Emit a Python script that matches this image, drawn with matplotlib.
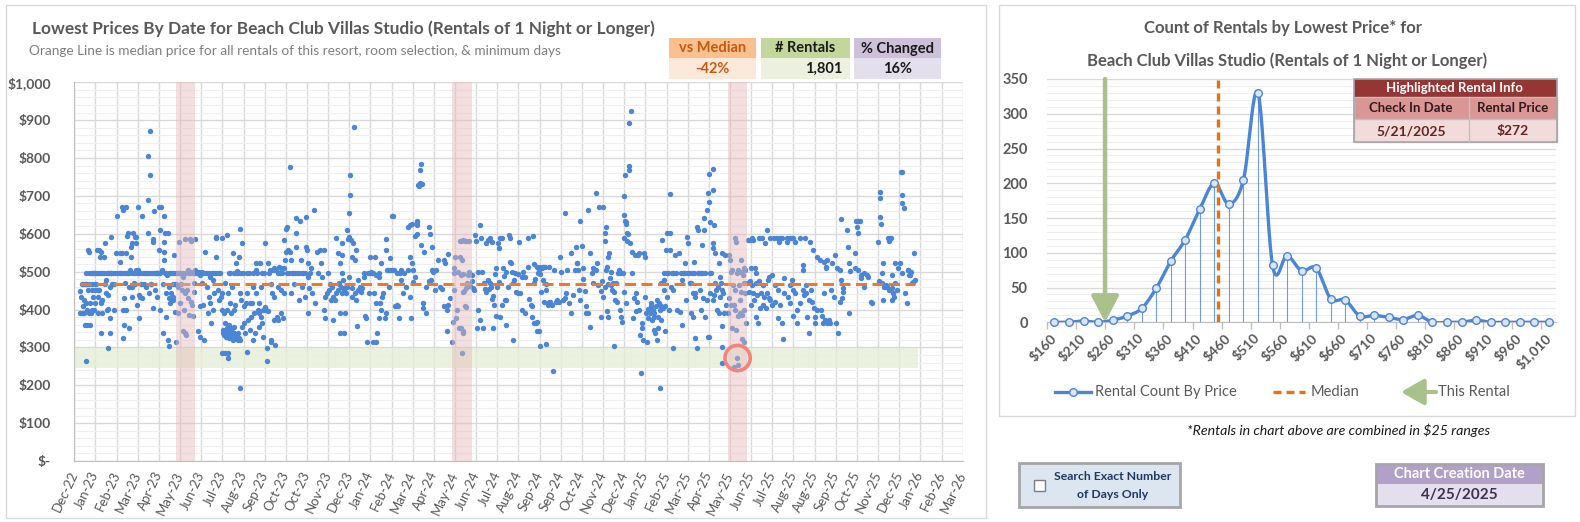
import datetime as dt
import numpy as np
import matplotlib
matplotlib.use("Agg")
import matplotlib.pyplot as plt
import matplotlib.dates as mdates
from matplotlib.patches import Rectangle
from matplotlib.ticker import MultipleLocator, FixedLocator

plt.rcParams['font.family'] = ['Lato', 'DejaVu Sans']

# ---------------- DATA ----------------
# Left chart: each rental "day:price", day = days since 2023-01-01
rentals_2023_h1 = """
0:450 1:390 2:434 3:467 3:390 4:390 5:467 5:408 6:390 6:425 7:467 7:359 8:496 8:416 9:265 9:467 10:399 10:359 11:557 11:452 12:390 12:496 13:553 13:467 14:359 14:416 15:496 15:390 16:467 16:496 17:452 17:399 18:434 18:496 19:496 19:399 20:416 20:452 21:496 21:467
22:467 23:557 23:496 24:390 24:434 25:452 25:496 26:557 26:452 27:540 27:496 28:416 28:421 28:337 29:553 29:496 30:390 30:425 31:496 32:540 32:496 33:467 34:575 35:478 35:443 36:399 36:496 37:298 37:438 38:401 38:496 39:496 40:460 40:377 40:337 41:496 42:592 42:496 43:467 44:496 45:399 46:467 47:496 48:548
50:648 51:496 53:548 53:496 54:526 55:496 56:672 56:548 57:324 57:496 58:663 58:399 59:359 59:430 60:469 60:496 61:548 62:672 62:399 63:595 63:496 64:601 64:496 65:496 66:350 66:460 67:504 68:540 68:566 69:575 69:460 70:496 70:434 71:601 72:469 72:496 73:592 74:496 74:467 75:575 75:504 75:592 76:412 76:496 77:504 77:672 78:377 78:438
80:496 80:434 81:467 82:430 83:648 84:496 85:467 86:496 87:496 88:460 89:496 90:805 90:688 90:603 91:496 92:443 93:872 93:755 93:496 94:467 95:467 96:496 97:585 97:577 97:403 98:496 99:661 100:496 100:452 101:496 102:496 102:434 103:496 104:496 105:672 105:557 106:610 106:496
107:399 108:672 109:504 110:467 111:337 112:648 112:579 112:553 112:531 113:601 113:496 114:381 115:496 115:443 116:491 117:601 117:320 118:304 118:496 119:460 119:430 120:496 120:416 121:443 122:496 123:434 124:425 124:467 125:544 125:496 126:394 126:467 127:467 128:313 128:496 129:496 130:460 130:390 131:496 132:577 133:416 133:496 134:467
135:452 136:496 137:487 137:342 138:399 139:587 139:496 140:337 140:443 141:333 142:452 143:504 144:496 144:430 145:386 146:587 146:496 147:421 148:582 148:500 149:412 150:496 150:382 151:469 152:496 152:447 153:585 153:504 154:496
155:496 156:496 157:342 158:500 159:328 159:408 160:491 161:496 162:500 162:469 163:412 164:496 165:320 166:552 167:496 168:496 169:460 170:390 171:496 171:434 172:487 173:416 174:364 175:496 176:478 176:399 177:496 178:443 179:496 180:590
"""
rentals_2023_h2 = """
181:592 181:540 182:496 183:452 184:425 185:496 186:496 187:434 188:284 188:399 189:590 189:443 190:346 190:337 191:390 191:333 192:469 192:364 193:284 193:342 194:346 194:328 195:597 195:399 195:350 196:271 196:337 197:284 197:443 197:337 198:496 198:324 198:359 199:496 199:416 199:337 200:342 200:390 200:333 201:333 201:346 202:350 202:460 203:548 203:320 203:337 204:496 204:399 205:337 205:355 206:328 206:412 207:524 207:496 207:328 208:501 208:328 209:496 209:333 210:337 210:320 211:540 211:324 212:496 212:443 213:612 213:192 213:320 214:425 215:575 215:355
216:496 217:408 218:364 219:337 220:416 221:289 221:496 222:443 223:372 224:496 225:416 226:346 227:381 228:416 229:496 230:320 230:460 231:390 232:337 233:504 233:443 234:522 235:496 236:399 237:355 238:416 238:390 239:522 240:381 240:460 241:364 242:496 243:399 243:328 244:496 245:575 245:406 247:399
248:265 248:298 249:395 250:522 251:496 252:504 253:320 253:467 254:315 255:443 256:504 257:372 258:509 258:434 259:306 260:504 261:381 262:496 262:460 263:372 264:512 265:496 266:452 266:390 267:509 268:496 269:377 270:509 270:443 271:584 272:531 273:612 273:553 275:496 275:619
276:557 277:496 278:553 279:777 280:531 280:443 281:496 283:496 284:467 285:496 286:641 287:601 287:566 288:496 290:496 290:425 292:635 293:531 294:496 295:460 296:496 298:496 298:434 300:645 300:566 301:557 302:522 302:487 303:390 304:456 305:496
306:509 308:443 310:663 312:416 314:553 315:496 318:557 319:522 321:487 323:557 323:399 325:434 325:377 327:443 329:496 330:452 332:467 333:425 334:460 335:434
336:372 338:425 340:588 340:443 342:548 342:452 343:469 344:467 345:522 345:390 345:339 346:460 347:443 348:575 348:544 348:496 349:478 350:452 350:339 351:390 352:460 353:443 354:610 354:460 355:585 356:592 357:654 357:487 358:702 358:755 359:583 360:456 360:434 361:540 362:575 363:883 364:531 365:443
"""
rentals_2024_h1 = """
366:425 366:557 367:357 368:478 369:452 371:460 373:447 374:456 376:496 377:487 378:383 379:377 380:315 382:496 383:443 385:496 385:540 386:500 387:496 388:315 389:496 390:443 391:540 392:315 393:491 393:416 394:337 396:487 396:377 397:496 398:416 399:522 399:399
400:434 402:443 404:377 405:585 405:390 406:557 407:504 409:504 410:460 411:535 411:504 413:648 414:504 415:648 416:504 418:408 420:412 420:496 422:408 423:377 424:496 425:504 426:478 428:443 430:496 432:460
435:619 435:504 437:540 437:434 438:623 439:377 440:626 440:522 441:504 442:473 444:595 444:487 446:623 446:632 446:635 447:600 448:730 449:727 450:768 451:733 452:784 452:570 453:731 454:416 455:403 456:552 458:392
459:460 462:619 462:474 464:600 465:478 466:566 467:504 468:500 470:452 472:504 475:531 477:460 480:455 482:531 482:408 484:522 486:342 486:399 488:547 488:413 490:430
493:313 494:368 495:510 495:452 496:496 497:540 498:377 500:400 501:500 502:350 503:540 504:582 505:582 505:491 505:350 506:286 506:531 507:583 507:447 507:337 508:495 508:342 509:450 510:580 510:410 511:580 512:456 512:406 513:469 514:491 515:582 515:496 516:499 517:462
519:491 519:474 521:456 522:452 524:597 525:582 526:350 528:400 528:500 530:623 530:372 531:588 533:500 534:351 535:469 537:453 538:575 538:447 540:478 541:584 542:453 543:590 543:469 545:460 546:577 546:429 547:437 547:351 548:412
"""
rentals_2024_h2 = """
550:494 551:384 551:510 553:460 554:575 555:562 555:473 557:381 557:588 559:588 559:412 560:510 562:488 563:425 564:359 565:424 565:500 567:460 568:597 570:588 570:526 571:522 573:500 574:320 574:469 575:478 576:496 578:447 580:493 580:443 582:577 583:443 585:487 586:400 587:500
589:487 590:390 594:588 594:513 595:427 597:412 599:410 599:381 600:593 601:469 601:519 602:364 603:480 604:364 605:343 606:513 606:366 607:497 608:344 608:505 609:495 610:513 610:304 611:447 612:509 613:479 614:513 615:421 616:513 617:468 617:308 618:452
620:412 621:513 622:420 623:421 625:412 627:238 628:505 630:420 632:425 634:420 636:540 637:500 640:425 642:430 643:654 644:443 645:505 648:416 650:548 651:392
653:438 656:505 657:566 658:522 659:522 660:504 661:452 662:635 663:425 665:567 666:480 667:509 669:448 670:408 671:390 673:663 673:392 675:355 676:548 678:496 680:509 680:469
683:709 684:504 685:522 686:466 688:670 690:448 690:381 692:474 693:670 693:434 695:580 695:460 696:601 697:619 697:504 698:513 698:395 699:540 699:381 700:467 701:548 702:482 703:465 704:500 705:452 706:469 707:447 708:303 709:425 710:469 711:421
713:496 714:504 715:399 716:496 717:381 718:368 719:496 720:588 721:650 721:700 721:445 722:755 722:635 723:632 723:626 723:418 724:601 725:582 726:600 727:893 727:769 727:779 728:575 730:925 731:553 731:496 733:378 734:430
"""
rentals_2025_h1 = """
735:545 736:395 737:443 738:420 739:545 740:548 741:399 742:333 743:233 744:364 745:350 746:320 747:548 748:434 749:540 750:390 751:315 752:402 753:377
755:390 756:408 757:416 758:372 759:399 760:346 760:390 761:381 762:337 763:408 764:320 764:425 765:381 766:350 767:416 768:399 768:192 769:469 770:408 770:372 771:584 772:403 773:478 773:496 774:452 775:408 775:342 776:557 777:496 778:601 778:434 779:496 780:399 781:705 782:601 782:557 783:460 784:496 785:298 786:496 786:452
788:544 790:496 791:399 793:548 795:394 796:496 797:478 798:359 799:496 800:496 802:522 802:496 803:425 804:592 805:575 806:496 807:496 808:469 809:390 810:469 811:496 812:381 812:443 813:526 813:496 814:443
815:434 815:324 817:298 817:619 818:496 819:610 820:496 821:452 822:496 823:399 824:570 824:496 825:430 826:641 826:610 828:496 828:381 830:663 830:425 832:709 832:327 833:327 833:758 833:685 834:496 835:632 835:443 836:496 838:575 838:562 838:425 839:770 839:716 840:623 840:438 841:469 841:548 842:452
844:399 845:460 846:522 847:390 848:434 848:487 849:469 850:452 851:548 851:357 851:300 851:260 852:443 853:390 855:544 856:412
858:390 859:431 860:544 861:531 862:412 862:500 863:504 864:350 865:465 866:412 866:249 867:399 868:588 868:452 869:577 869:346 870:272 870:496 871:383 872:504 872:254 873:465 874:425 874:390 875:500 876:447 876:531 877:321 877:386 878:491 879:469 879:313 880:399 880:509 881:504 881:443 882:364 883:469
885:584 886:447 887:474 888:584 889:509 889:412 890:588 890:465 891:443 892:584 893:425 894:509 895:469 895:496 896:381 897:438 898:364 899:588 900:474 901:403 902:443 903:588 904:412 905:465 906:434 907:575 908:403 910:610 910:443 911:478 912:430 913:487 914:425 914:588
"""
rentals_2025_h2 = """
916:491 917:412 919:588 920:465 921:421 923:588 924:452 925:377 926:577 927:588 927:412 930:588 930:364 931:322 932:482 933:443 936:588 936:577 938:434 940:588 941:416 941:465 943:588 943:478 944:452 945:588 945:383 947:443 947:577 949:364
950:399 953:588 954:416 957:518 957:504 958:452 959:438 960:588 961:443 962:465 963:381 965:425 966:337 967:577 968:452 969:421 971:557 972:403 973:381 974:364 976:399 976:540
980:531 981:399 983:383 984:364 985:526 986:443 987:372 988:513 988:509 989:364 990:531 992:372 994:364 995:452 996:522 998:434 1000:544 1001:364 1002:509 1004:339 1006:504 1006:421
1008:639 1008:479 1009:430 1010:447 1011:456 1016:610 1017:566 1018:522 1018:392 1020:501 1026:550 1027:509 1028:635 1029:619 1030:601 1030:635 1031:635 1031:504 1033:635 1034:482 1035:491 1038:460 1039:496 1042:491 1044:487 1047:421
1049:416 1057:577 1058:474 1059:711 1059:645 1060:695 1061:627 1062:469 1062:496 1063:524 1064:425 1065:460 1068:465 1069:460 1070:588 1071:452 1072:582 1073:588 1074:588 1075:456 1075:491 1076:425 1077:443 1078:434 1079:522 1080:469 1082:452 1084:509 1086:522 1087:764 1088:764 1088:703 1088:682 1089:496 1091:667 1093:443 1095:416 1096:504 1097:504 1098:491 1099:491 1100:498 1102:469 1103:473 1105:548 1106:479
"""
data_epoch = dt.date(2023, 1, 1)
median_price = 467
highlight_date = dt.date(2025, 5, 21)
highlight_price = 272
band_years = [2023, 2024, 2025]
band_half_days = 13
price_band_pct = 0.10
axis_start = dt.date(2022, 12, 25)
tick_step_days = 28
n_ticks = 43

stat_labels = ["vs Median", "# Rentals", "% Changed"]
stat_values = ["-42%", "1,801", "16%"]

# Right chart: count of rentals per $25 price bin
price_bins = [160, 185, 210, 235, 260, 285, 310, 335, 360, 385, 410, 435, 460, 485,
              510, 535, 560, 585, 610, 635, 660, 685, 710, 735, 760, 785, 810, 835,
              860, 885, 910, 935, 960, 985, 1010]
bin_counts = [0, 0, 2, 0, 3, 9, 20, 49, 88, 119, 163, 200, 170, 205,
              330, 82, 96, 74, 78, 34, 32, 9, 10, 7, 4, 10, 0, 0,
              0, 3, 0, 0, 0, 0, 0]
bin_width = 25
creation_date = "4/25/2025"

# ---------------- STYLE ----------------
W, H = 1580, 522
BLUE = '#4A85D6'
ORANGE = '#EB7A2E'
ORANGE2 = '#E8700F'
GREEN_ARROW = '#A9C18B'
GRID = '#D9D9D9'
TXT = '#595959'

fig = plt.figure(figsize=(W / 100, H / 100), dpi=100)


def parse(*blocks):
    d, p = [], []
    for b in blocks:
        for tok in b.split():
            a, c = tok.split(':')
            d.append(int(a))
            p.append(int(c))
    return np.array(d), np.array(p)


days, prices = parse(rentals_2023_h1, rentals_2023_h2, rentals_2024_h1,
                     rentals_2024_h2, rentals_2025_h1, rentals_2025_h2)
epoch_num = mdates.date2num(data_epoch)
xdates = epoch_num + days

# ---------------- LEFT CHART ----------------
ax = fig.add_axes([74.3 / W, 1 - 461 / H, (962.7 - 74.3) / W, (461 - 82.3) / H])
ticks = [axis_start + dt.timedelta(days=tick_step_days * i) for i in range(n_ticks)]
tnum = mdates.date2num(ticks)
ax.set_xlim(tnum[0], tnum[-1])
ax.set_ylim(0, 1000)
ax.set_xticks(tnum)
ax.set_xticklabels([t.strftime('%b-%y') for t in ticks], rotation=65, ha='right',
                   va='center', rotation_mode='anchor', fontsize=9.5, color=TXT)
ax.set_yticks(np.arange(0, 1001, 100))
ax.yaxis.set_minor_locator(MultipleLocator(20))
ax.set_yticklabels(['$-' if v == 0 else f'${v:,}' for v in range(0, 1001, 100)],
                   fontsize=10, fontweight='bold', color=TXT)
ax.tick_params(axis='both', which='both', length=0)
ax.tick_params(axis='y', pad=17)
ax.tick_params(axis='x', pad=8)
ax.set_axisbelow(True)
ax.grid(which='major', axis='both', color=GRID, lw=1)
ax.grid(which='minor', axis='y', color='#EFEFEF', lw=0.8)
for s in ['top', 'right']:
    ax.spines[s].set_visible(False)
for s in ['left', 'bottom']:
    ax.spines[s].set_color('#BFBFBF')

lo, hi = highlight_price * (1 - price_band_pct), highlight_price * (1 + price_band_pct)
ax.fill_between([tnum[0], xdates.max() + 4], lo, hi, color='#E6EED7', alpha=0.8,
                lw=0, zorder=1)
ax.scatter(xdates, prices, s=15, color=BLUE, linewidths=0, zorder=3)
ax.plot([xdates.min(), xdates.max()], [median_price, median_price], color=ORANGE,
        lw=2.2, ls=(0, (3.6, 1.8)), zorder=4)
for yr in band_years:
    c = mdates.date2num(dt.date(yr, highlight_date.month, highlight_date.day))
    ax.axvspan(c - band_half_days, c + band_half_days, color='#E5B8B8', alpha=0.45,
               lw=0, zorder=5)
hx = mdates.date2num(highlight_date)
ax.scatter([hx], [highlight_price], s=330, facecolors='none', edgecolors='#F4837D',
           linewidths=2.6, zorder=6)

# ---------------- RIGHT CHART ----------------
ax2 = fig.add_axes([1047.2 / W, 1 - 322.3 / H, (1556 - 1047.2) / W, (322.3 - 79) / H])
idx = np.arange(len(price_bins))
cnt = np.array(bin_counts, dtype=float)
ax2.set_xlim(-0.5, len(price_bins) - 0.5)
ax2.set_ylim(0, 350)
ax2.set_yticks(np.arange(0, 351, 50))
ax2.yaxis.set_minor_locator(MultipleLocator(10))
ax2.set_yticklabels([str(v) for v in range(0, 351, 50)], fontsize=10.5,
                    fontweight='bold', color=TXT)
ax2.set_xticks(idx[::2])
ax2.set_xticklabels([f'${v:,}' for v in price_bins[::2]], rotation=45, ha='right',
                    va='center', rotation_mode='anchor', fontsize=10,
                    fontweight='bold', color=TXT)
ax2.xaxis.set_minor_locator(FixedLocator(np.arange(-0.5, len(price_bins), 2)))
ax2.tick_params(axis='y', which='both', length=0, pad=14)
ax2.tick_params(axis='x', which='major', length=0, pad=10)
ax2.tick_params(axis='x', which='minor', length=5, color='#BFBFBF', width=1)
ax2.set_axisbelow(True)
ax2.grid(which='major', axis='y', color=GRID, lw=1)
ax2.grid(which='minor', axis='y', color='#EEEEEE', lw=0.8)
for s in ['top', 'right', 'left']:
    ax2.spines[s].set_visible(False)
ax2.spines['bottom'].set_color('#BFBFBF')


def smooth(xs, ys, n=24):
    P = np.column_stack([xs, ys]).astype(float)
    Q = np.vstack([P[0], P, P[-1]])
    out = []
    t = np.linspace(0, 1, n, endpoint=False)[:, None]
    for i in range(len(P) - 1):
        p0, p1, p2, p3 = Q[i], Q[i + 1], Q[i + 2], Q[i + 3]
        c1 = p1 + (p2 - p0) / 6.0
        c2 = p2 - (p3 - p1) / 6.0
        out.append((1 - t) ** 3 * p1 + 3 * (1 - t) ** 2 * t * c1
                   + 3 * (1 - t) * t ** 2 * c2 + t ** 3 * p2)
    out.append(P[-1:])
    return np.vstack(out)


ax2.vlines(idx, 0, cnt, color='#6C9BE0', lw=0.8, zorder=2)
sm = smooth(idx, cnt)
ax2.plot(sm[:, 0], sm[:, 1], color=BLUE, lw=2.4, zorder=3, solid_capstyle='round')
ax2.scatter(idx, cnt, s=30, facecolor='#DCE6F2', edgecolor=BLUE, linewidths=1,
            zorder=4, clip_on=False)
med_pos = (median_price - price_bins[0]) / bin_width - 1
ax2.plot([med_pos, med_pos], [0, 350], color=ORANGE2, lw=2.4,
         ls=(0, (2.4, 1.5)), zorder=5)
rent_pos = (highlight_price - price_bins[0]) / bin_width - 1
ax2.annotate('', xy=(rent_pos, 0), xytext=(rent_pos, 350),
             arrowprops=dict(arrowstyle='-|>,head_width=0.42,head_length=0.8',
                             mutation_scale=20, lw=3.2, color=GREEN_ARROW,
                             shrinkA=0, shrinkB=0), zorder=6)

# ---------------- OVERLAY (frames, boxes, texts) ----------------
ov = fig.add_axes([0, 0, 1, 1], zorder=10)
ov.set_xlim(0, W)
ov.set_ylim(H, 0)
ov.axis('off')
ov.patch.set_alpha(0)


def rect(x0, y0, x1, y1, fc='none', ec='none', lw=1.0):
    ov.add_patch(Rectangle((x0, y0), x1 - x0, y1 - y0, facecolor=fc, edgecolor=ec, lw=lw))


rect(6, 5, 986, 518, ec='#D9D9D9')
rect(999, 5, 1575, 416, ec='#D9D9D9')

ov.text(32, 29, "Lowest Prices By Date for Beach Club Villas Studio (Rentals of 1 Night or Longer)",
        fontsize=12.4, fontweight='bold', color=TXT, va='center', ha='left')
ov.text(29, 51, "Orange Line is median price for all rentals of this resort, room selection, & minimum days",
        fontsize=9.8, color='#7F7F7F', va='center', ha='left')

# stat boxes
boxes = [(669, 756, '#FAC090', '#FDE9D9', '#C55A11', '#C55A11', 'center'),
         (761, 850, '#C4D79B', '#EBF1DE', '#1A1A1A', '#1A1A1A', 'right'),
         (854, 941, '#CCC0DA', '#E4DFEC', '#1A1A1A', '#1A1A1A', 'center')]
for (x0, x1, hc, vc, htc, vtc, al), lab, val in zip(boxes, stat_labels, stat_values):
    rect(x0, 38, x1, 58, fc=hc)
    rect(x0, 58, x1, 79, fc=vc)
    ov.text((x0 + x1) / 2, 48.5, lab, fontsize=10.5, fontweight='bold', color=htc,
            ha='center', va='center')
    if al == 'right':
        ov.text(x1 - 8, 69, val, fontsize=10.5, fontweight='bold', color=vtc,
                ha='right', va='center')
    else:
        ov.text((x0 + x1) / 2, 69, val, fontsize=10.5, fontweight='bold', color=vtc,
                ha='center', va='center')

# right chart title
ov.text(1283, 28, "Count of Rentals by Lowest Price* for", fontsize=12, fontweight='bold',
        color=TXT, ha='center', va='center')
ov.text(1287, 61, "Beach Club Villas Studio (Rentals of 1 Night or Longer)", fontsize=12,
        fontweight='bold', color=TXT, ha='center', va='center')

# highlighted rental table
rect(1354, 79, 1557, 97, fc='#963634')
rect(1354, 97, 1557, 119, fc='#DA9694', ec='#BFBFBF')
rect(1354, 119, 1557, 142, fc='#F2DCDB', ec='#BFBFBF')
ov.plot([1469, 1469], [97, 142], color='#BFBFBF', lw=1)
rect(1354, 79, 1557, 142, ec='#A6A6A6', lw=1.2)
ov.text(1455, 88.5, "Highlighted Rental Info", fontsize=9.5, fontweight='bold', color='white',
        ha='center', va='center')
ov.text(1411, 108, "Check In Date", fontsize=9.5, fontweight='bold', color='#2E1A1A',
        ha='center', va='center')
ov.text(1513, 108, "Rental Price", fontsize=9.5, fontweight='bold', color='#2E1A1A',
        ha='center', va='center')
ov.text(1411, 131, highlight_date.strftime('%-m/%-d/%Y'), fontsize=10, fontweight='bold',
        color='#632523', ha='center', va='center')
ov.text(1513, 131, f'${highlight_price}', fontsize=10, fontweight='bold', color='#632523',
        ha='center', va='center')

# legend
ov.plot([1055, 1091], [392, 392], color=BLUE, lw=2.4)
ov.scatter([1073], [392], s=30, facecolor='#DCE6F2', edgecolor=BLUE, linewidths=1, zorder=5)
ov.text(1095, 392, "Rental Count By Price", fontsize=10.5, color=TXT, ha='left', va='center')
ov.plot([1273, 1305], [392, 392], color=ORANGE2, lw=2.4, ls=(0, (2.4, 1.5)))
ov.text(1311, 392, "Median", fontsize=10.5, color=TXT, ha='left', va='center')
ov.annotate('', xy=(1401, 392), xytext=(1436, 392),
            arrowprops=dict(arrowstyle='-|>,head_width=0.4,head_length=0.7',
                            mutation_scale=20, lw=3, color=GREEN_ARROW,
                            shrinkA=0, shrinkB=0))
ov.text(1438, 392, "This Rental", fontsize=10.5, color=TXT, ha='left', va='center')

ov.text(1339, 430, "*Rentals in chart above are combined in $25 ranges", fontsize=10.2,
        style='italic', color='#1A1A1A', ha='center', va='center')

# checkbox box
rect(1019, 463, 1180, 507, fc='#DCE6F1', ec='#A6A6A6', lw=2)
rect(1034, 480, 1045, 491, fc='white', ec='#7F7F7F', lw=1)
ov.text(1113, 477, "Search Exact Number", fontsize=8.8, fontweight='bold', color='#1F3864',
        ha='center', va='center')
ov.text(1113, 494, "of Days Only", fontsize=8.8, fontweight='bold', color='#1F3864',
        ha='center', va='center')

# chart creation date box
rect(1376, 464, 1543, 484, fc='#B1A0C7')
rect(1376, 484, 1543, 506, fc='#E4DFEC')
rect(1376, 464, 1543, 506, ec='#A6A6A6', lw=2)
ov.text(1459.5, 474, "Chart Creation Date", fontsize=10.5, fontweight='bold', color='white',
        ha='center', va='center')
ov.text(1459.5, 495.5, creation_date, fontsize=11, fontweight='bold', color='#3F3151',
        ha='center', va='center')

fig.savefig('out.png', dpi=100)
